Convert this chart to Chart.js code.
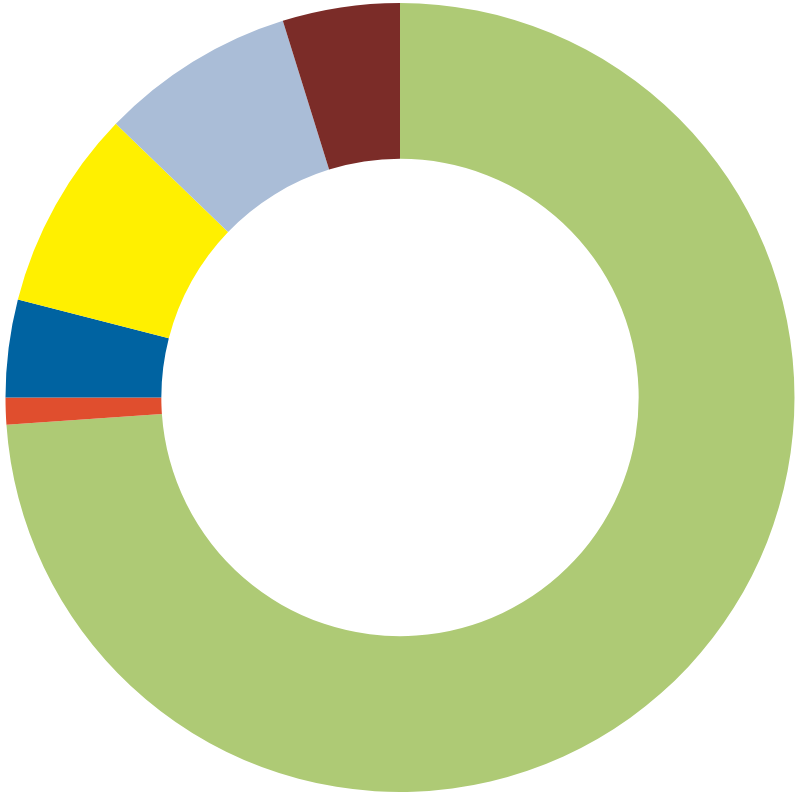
<!DOCTYPE html>
<html>
<head>
<meta charset="utf-8">
<script src="https://cdn.jsdelivr.net/npm/chart.js@4/dist/chart.umd.min.js"></script>
<style>
  html, body { margin: 0; padding: 0; background: #fff; }
  #grafica { display: block; }
</style>
</head>
<body>
<canvas id="grafica" width="800" height="800"></canvas>
<script>
// Datos del anillo (porcentajes)
const categorias = ['A', 'B', 'C', 'D', 'E', 'F'];
const valores = [73.9, 1.1, 4.0, 8.2, 8.0, 4.8];
const colores = ['#aeca75', '#e04e2e', '#0063a1', '#fff000', '#aabdd7', '#7b2c28'];

const ctx = document.getElementById('grafica').getContext('2d');
new Chart(ctx, {
    type: 'doughnut',
    data: {
        labels: categorias,
        datasets: [{
            data: valores,
            backgroundColor: colores,
            borderWidth: 0
        }]
    },
    options: {
        responsive: false,
        animation: false,
        cutout: '60.5%',
        layout: { padding: { top: 3, bottom: 8, left: 5, right: 5 } },
        plugins: {
            legend: { display: false },
            tooltip: { enabled: false }
        }
    }
});
</script>
</body>
</html>
